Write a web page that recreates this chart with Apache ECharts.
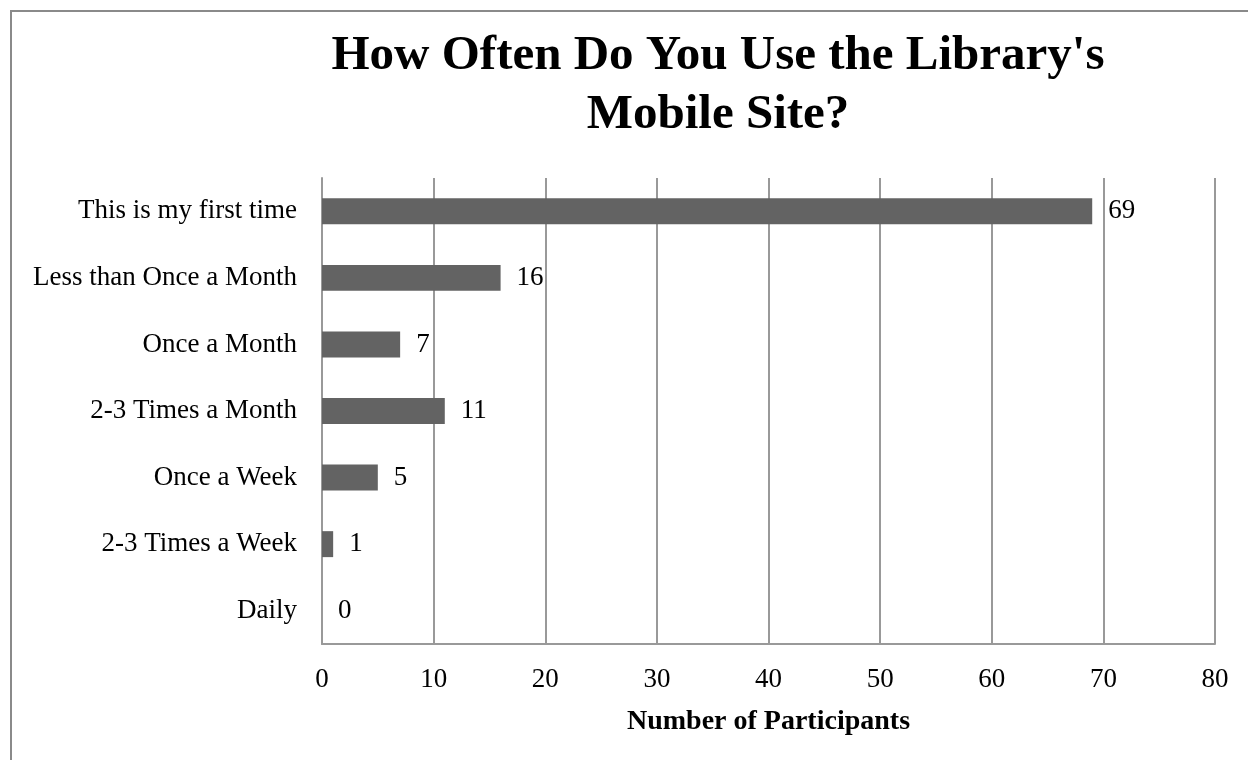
<!DOCTYPE html>
<html><head><meta charset="utf-8">
<script src="https://cdn.jsdelivr.net/npm/echarts@6/dist/echarts.min.js"></script>
<style>html,body{margin:0;padding:0;background:#fff}#c{width:1248px;height:760px}</style>
</head><body><div id="c"></div>
<script>
const categories = ["This is my first time","Less than Once a Month","Once a Month","2-3 Times a Month","Once a Week","2-3 Times a Week","Daily"];
const values = [69,16,7,11,5,1,0];
const xTicks = {min:0,max:80,interval:10};
const FONT = "Liberation Serif";
const chart = echarts.init(document.getElementById('c'));
chart.setOption({
  animation:false,
  graphic:[{type:'rect',shape:{x:11,y:11,width:1300,height:900},style:{fill:'none',stroke:'#8a8a8a',lineWidth:2},silent:true}],
  title:{text:"How Often Do You Use the Library's\nMobile Site?",left:713,textAlign:'center',top:22,
    textStyle:{fontFamily:FONT,fontWeight:'bold',fontSize:49,lineHeight:59,color:'#000'}},
  grid:{left:322,right:33,top:178,bottom:116},
  xAxis:{type:'value',min:xTicks.min,max:xTicks.max,interval:xTicks.interval,
    name:'Number of Participants',nameLocation:'middle',nameGap:64,
    nameTextStyle:{fontFamily:FONT,fontWeight:'bold',fontSize:28,color:'#000'},
    axisLine:{show:true,lineStyle:{color:'#999',width:2}},axisTick:{show:false},
    axisLabel:{fontFamily:FONT,fontSize:27,color:'#000',margin:22},
    splitLine:{show:true,lineStyle:{color:'#999',width:2}}},
  yAxis:{type:'category',data:categories,inverse:true,
    axisLine:{show:true,lineStyle:{color:'#999',width:2}},axisTick:{show:false},
    axisLabel:{fontFamily:FONT,fontSize:27,color:'#000',margin:25}},
  series:[{type:'bar',data:values,barWidth:'39%',itemStyle:{color:'#636363'},
    label:{show:true,position:'right',distance:16,fontFamily:FONT,fontSize:27,color:'#000'}}]
});
</script></body></html>
